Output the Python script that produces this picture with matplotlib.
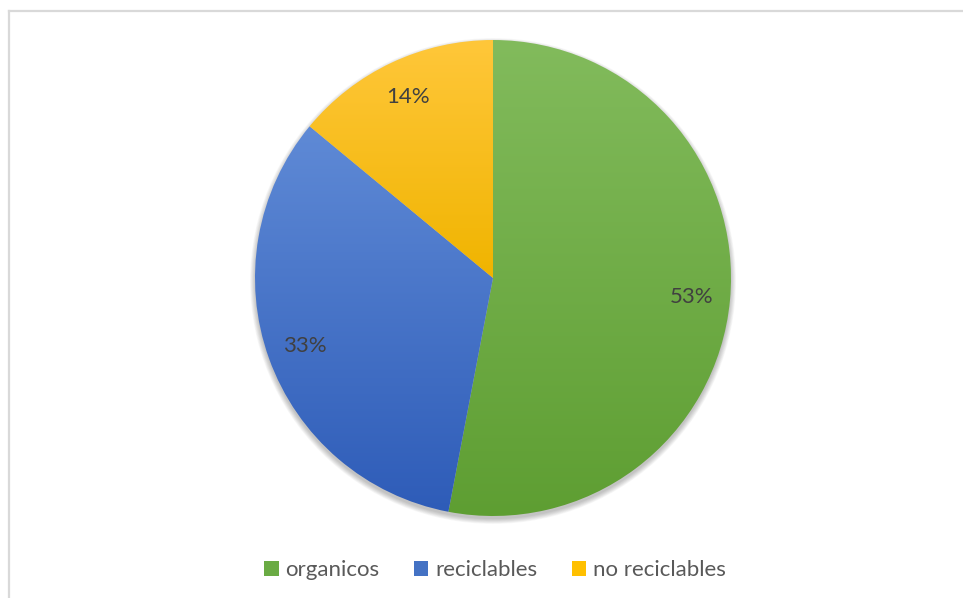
import numpy as np
import matplotlib
matplotlib.use("Agg")
import matplotlib.pyplot as plt
from matplotlib.patches import Patch, Circle
from matplotlib.colors import LinearSegmentedColormap

labels = ["organicos", "reciclables", "no reciclables"]
values = [53, 33, 14]
# (top colour, bottom colour) of each slice's vertical gradient
tops = ["#82bb5c", "#5f8ad6", "#ffc73a"]
bottoms = ["#5e9e32", "#2e5cb8", "#f0b400"]
legend_colors = ["#6aab44", "#4472c4", "#ffc000"]

W, H = 963, 598
cx, cy, r = 493, H - 278, 238

plt.rcParams['font.family'] = ['Lato', 'DejaVu Sans']

fig = plt.figure(figsize=(W / 100, H / 100), dpi=100)
ax = fig.add_axes([0, 0, 1, 1])

# chart frame
ax.plot([9, W + 5], [H - 11, H - 11], color="#d9d9d9", lw=1.6, zorder=0)
ax.plot([9, 9], [H - 11, -5], color="#d9d9d9", lw=1.6, zorder=0)

# soft shadow under the pie
for i in range(8):
    ax.add_patch(Circle((cx, cy - 3), r + 0.7 * i, color="black",
                        alpha=0.03, lw=0, zorder=1))

wedges, texts, autotexts = ax.pie(
    values, center=(cx, cy), radius=r, startangle=90, counterclock=False,
    colors=legend_colors, autopct=lambda p: f"{round(p)}%", pctdistance=0.84,
    wedgeprops=dict(linewidth=0),
    textprops=dict(fontsize=16, color="#404040"), frame=True)
ax.set_xlim(0, W)
ax.set_ylim(0, H)
ax.set_aspect('equal')
ax.axis('off')

# vertical gradient fill clipped to each slice
for w, c_top, c_bot in zip(wedges, tops, bottoms):
    verts = w.get_patch_transform().transform(w.get_path().vertices)
    y0, y1 = verts[:, 1].min(), verts[:, 1].max()
    cmap = LinearSegmentedColormap.from_list("g", [c_bot, c_top])
    grad = np.linspace(0, 1, 256).reshape(-1, 1)
    im = ax.imshow(grad, cmap=cmap, origin="lower", aspect="auto",
                   extent=[cx - r - 2, cx + r + 2, y0, y1], zorder=2,
                   interpolation="bilinear")
    im.set_clip_path(w)
    w.set_facecolor("none")
    w.set_zorder(3)

for t in autotexts:
    t.set_zorder(5)

handles = [Patch(facecolor=c, edgecolor="none") for c in legend_colors]
ax.legend(handles, labels, loc="center", bbox_to_anchor=(495 / W, 28 / H),
          bbox_transform=fig.transFigure, ncol=3, frameon=False,
          fontsize=16, labelcolor="#595959", handlelength=0.65,
          handleheight=0.65, handletextpad=0.3, columnspacing=1.55)

fig.savefig("out.png", dpi=100)
